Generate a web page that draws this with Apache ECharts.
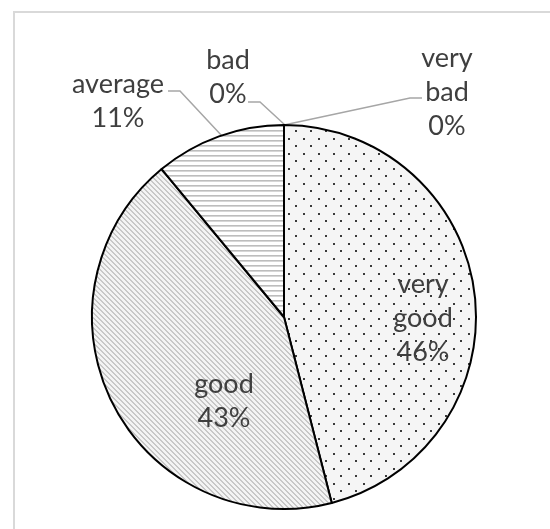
<!DOCTYPE html>
<html>
<head>
<meta charset="utf-8">
<script src="https://cdn.jsdelivr.net/npm/echarts@6/dist/echarts.min.js"></script>
<style>
  html, body { margin: 0; padding: 0; background: #fff; }
  #main { width: 550px; height: 529px; }
</style>
</head>
<body>
<div id="main"></div>
<script>
const categories = ['very good', 'good', 'average', 'bad', 'very bad']
const values = [46, 43, 11, 0, 0]

// where Excel put each label (block centre) and its leader line
const labelPos = [[423, 318], [224, 401], [118, 101], [228, 77], [447, 92]]
const leaderPts = [
  null,
  null,
  [[222, 136], [180, 91], [168, 91]],
  [[285, 125], [260, 102], [248, 102]],
  [[284, 125], [410, 98], [422, 98]]
]

const makePattern = (kind) => {
  const c = document.createElement('canvas')
  let ctx
  if (kind === 'dots') {
    c.width = 15
    c.height = 15
    ctx = c.getContext('2d')
    ctx.fillStyle = '#f5f5f5'
    ctx.fillRect(0, 0, 15, 15)
    ctx.fillStyle = '#3a3a3a'
    ctx.fillRect(3, 3, 2, 2)
    ctx.fillRect(10, 10, 2, 2)
  } else if (kind === 'diag') {
    c.width = 5
    c.height = 5
    ctx = c.getContext('2d')
    ctx.fillStyle = '#f4f4f4'
    ctx.fillRect(0, 0, 5, 5)
    ctx.fillStyle = '#c8c8c8'
    for (let y = 0; y < 5; y++) {
      ctx.fillRect(y, y, 1, 1)
      ctx.fillRect((y + 1) % 5, y, 1, 1)
    }
  } else {
    c.width = 4
    c.height = 5
    ctx = c.getContext('2d')
    ctx.fillStyle = '#ffffff'
    ctx.fillRect(0, 0, 4, 5)
    ctx.fillStyle = '#bdbdbd'
    ctx.fillRect(0, 0, 4, 1)
    ctx.fillStyle = '#d6d6d6'
    ctx.fillRect(0, 1, 4, 1)
  }
  return { image: c, repeat: 'repeat' }
}

const fills = [makePattern('dots'), makePattern('diag'), makePattern('hlines'), makePattern('hlines'), makePattern('hlines')]

const myChart = echarts.init(document.getElementById('main'))

myChart.setOption({
  animation: false,
  graphic: [
    {
      type: 'rect',
      z: -10,
      shape: { x: 14, y: 12, width: 580, height: 580 },
      style: { fill: 'none', stroke: '#d9d9d9', lineWidth: 2 }
    }
  ],
  series: [
    {
      type: 'pie',
      center: [284, 317],
      radius: 192,
      startAngle: 90,
      clockwise: true,
      avoidLabelOverlap: false,
      itemStyle: {
        borderColor: '#000',
        borderWidth: 2
      },
      label: {
        fontFamily: 'Lato',
        fontSize: 27,
        lineHeight: 34,
        color: '#3f3f3f',
        align: 'center',
        formatter: (p) => p.name.replace(' ', '\n') + '\n' + Math.round(p.percent) + '%'
      },
      labelLine: {
        lineStyle: { color: '#a6a6a6', width: 1.5 }
      },
      labelLayout: (params) => {
        const p = labelPos[params.dataIndex]
        const out = { x: p[0], y: p[1], align: 'center', verticalAlign: 'middle' }
        if (leaderPts[params.dataIndex]) out.labelLinePoints = leaderPts[params.dataIndex]
        return out
      },
      emphasis: { disabled: true },
      data: categories.map((name, i) => ({
        name,
        value: values[i],
        itemStyle: { color: fills[i] },
        label: { position: i < 2 ? 'inside' : 'outside' },
        labelLine: { show: i >= 2 }
      }))
    }
  ]
})
</script>
</body>
</html>
